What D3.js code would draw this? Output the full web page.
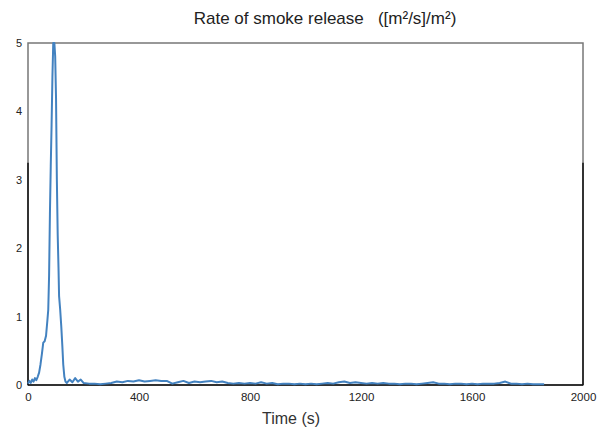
<!DOCTYPE html>
<html><head><meta charset="utf-8">
<script src="https://cdn.jsdelivr.net/npm/d3@7"></script>
<style>
html,body{margin:0;padding:0;background:#fff;}
text{font-family:"Liberation Sans",Arial,sans-serif;}
</style></head>
<body><svg id="c" width="601" height="430"></svg>
<script>
const timeS = [0,5,10,15,20,25,30,35,40,45,50,55,60,65,70,73,76,79,82,85,88,91,95,98,101,104,107,110,112,116,120,124,127,131,135,140,
150,160,170,180,190,
200,220,240,260,280,300,320,340,360,380,400,420,440,460,480,500,520,540,560,580,600,620,640,660,680,700,720,740,760,780,800,820,840,860,880,900,920,940,960,980,1000,1020,1040,1060,1080,1100,1120,1140,1160,1180,1200,1220,1240,1260,1280,1300,1320,1340,1360,1380,1400,1420,1440,1460,1480,1500,1520,1540,1560,1580,1600,1620,1640,1660,1680,1700,1720,1740,1760,1780,1800,1820,1840,1860];
const smokeRate = [0.02,0.06,0.03,0.08,0.05,0.10,0.07,0.12,0.18,0.30,0.45,0.62,0.64,0.72,0.95,1.10,1.60,2.50,3.20,3.80,4.50,5.00,5.00,4.80,4.20,3.00,2.20,1.70,1.30,1.10,0.85,0.55,0.30,0.12,0.05,0.03,
0.08,0.04,0.10,0.05,0.08,
0.03,0.02,0.02,0.01,0.02,0.03,0.05,0.04,0.06,0.05,0.07,0.05,0.06,0.07,0.06,0.06,0.02,0.04,0.06,0.03,0.05,0.04,0.05,0.06,0.04,0.05,0.03,0.02,0.03,0.02,0.03,0.02,0.04,0.02,0.03,0.01,0.02,0.02,0.01,0.02,0.01,0.02,0.01,0.02,0.03,0.02,0.04,0.05,0.03,0.04,0.03,0.02,0.03,0.02,0.03,0.02,0.02,0.01,0.02,0.02,0.01,0.02,0.03,0.04,0.02,0.02,0.01,0.02,0.02,0.01,0.02,0.01,0.02,0.02,0.02,0.03,0.05,0.02,0.02,0.01,0.02,0.01,0.01,0.01];
const xTicks = [0,400,800,1200,1600,2000];
const yTicks = [0,1,2,3,4,5];
const titleText = "Rate of smoke release   ([m²/s]/m²)";
const xLabel = "Time (s)";

const svg = d3.select("#c");
const L=28, R=583, T=43, B=385;
const x = d3.scaleLinear().domain([0,2000]).range([L,R]);
const y = d3.scaleLinear().domain([0,5]).range([B,T]);

// frame: upper part gray, lower part black
svg.append("rect").attr("x",L).attr("y",T).attr("width",R-L).attr("height",B-T)
  .attr("fill","none").attr("stroke","#777").attr("stroke-width",1.5);
const ySplit = y(3.25);
svg.append("line").attr("x1",L).attr("x2",L).attr("y1",ySplit).attr("y2",B).attr("stroke","#111").attr("stroke-width",1.5);
svg.append("line").attr("x1",R).attr("x2",R).attr("y1",ySplit).attr("y2",B).attr("stroke","#111").attr("stroke-width",1.5);
svg.append("line").attr("x1",L).attr("x2",R).attr("y1",B).attr("y2",B).attr("stroke","#111").attr("stroke-width",1.5);

// axes
const xa = svg.append("g").attr("transform",`translate(0,${B})`)
  .call(d3.axisBottom(x).tickValues(xTicks).tickSize(0).tickPadding(8).tickFormat(d3.format("d")));
xa.select(".domain").remove();
xa.selectAll("text").attr("font-size",11.5).attr("fill","#222");
const ya = svg.append("g").attr("transform",`translate(${L},0)`)
  .call(d3.axisLeft(y).tickValues(yTicks).tickSize(0).tickPadding(6).tickFormat(d3.format("d")));
ya.select(".domain").remove();
ya.selectAll("text").attr("font-size",11).attr("fill","#222");

// line
const data = timeS.map((t,i)=>({t, v:smokeRate[i]}));
svg.append("path").datum(data)
  .attr("d", d3.line().x(d=>x(d.t)).y(d=>y(d.v)))
  .attr("fill","none").attr("stroke","#4382c0").attr("stroke-width",2).attr("stroke-linejoin","round");

// titles
svg.append("text").attr("x",325).attr("y",24).attr("text-anchor","middle")
  .attr("font-size",17).attr("fill","#222").attr("xml:space","preserve").text(titleText);
svg.append("text").attr("x",291).attr("y",424).attr("text-anchor","middle")
  .attr("font-size",16).attr("fill","#333").text(xLabel);
</script></body></html>
